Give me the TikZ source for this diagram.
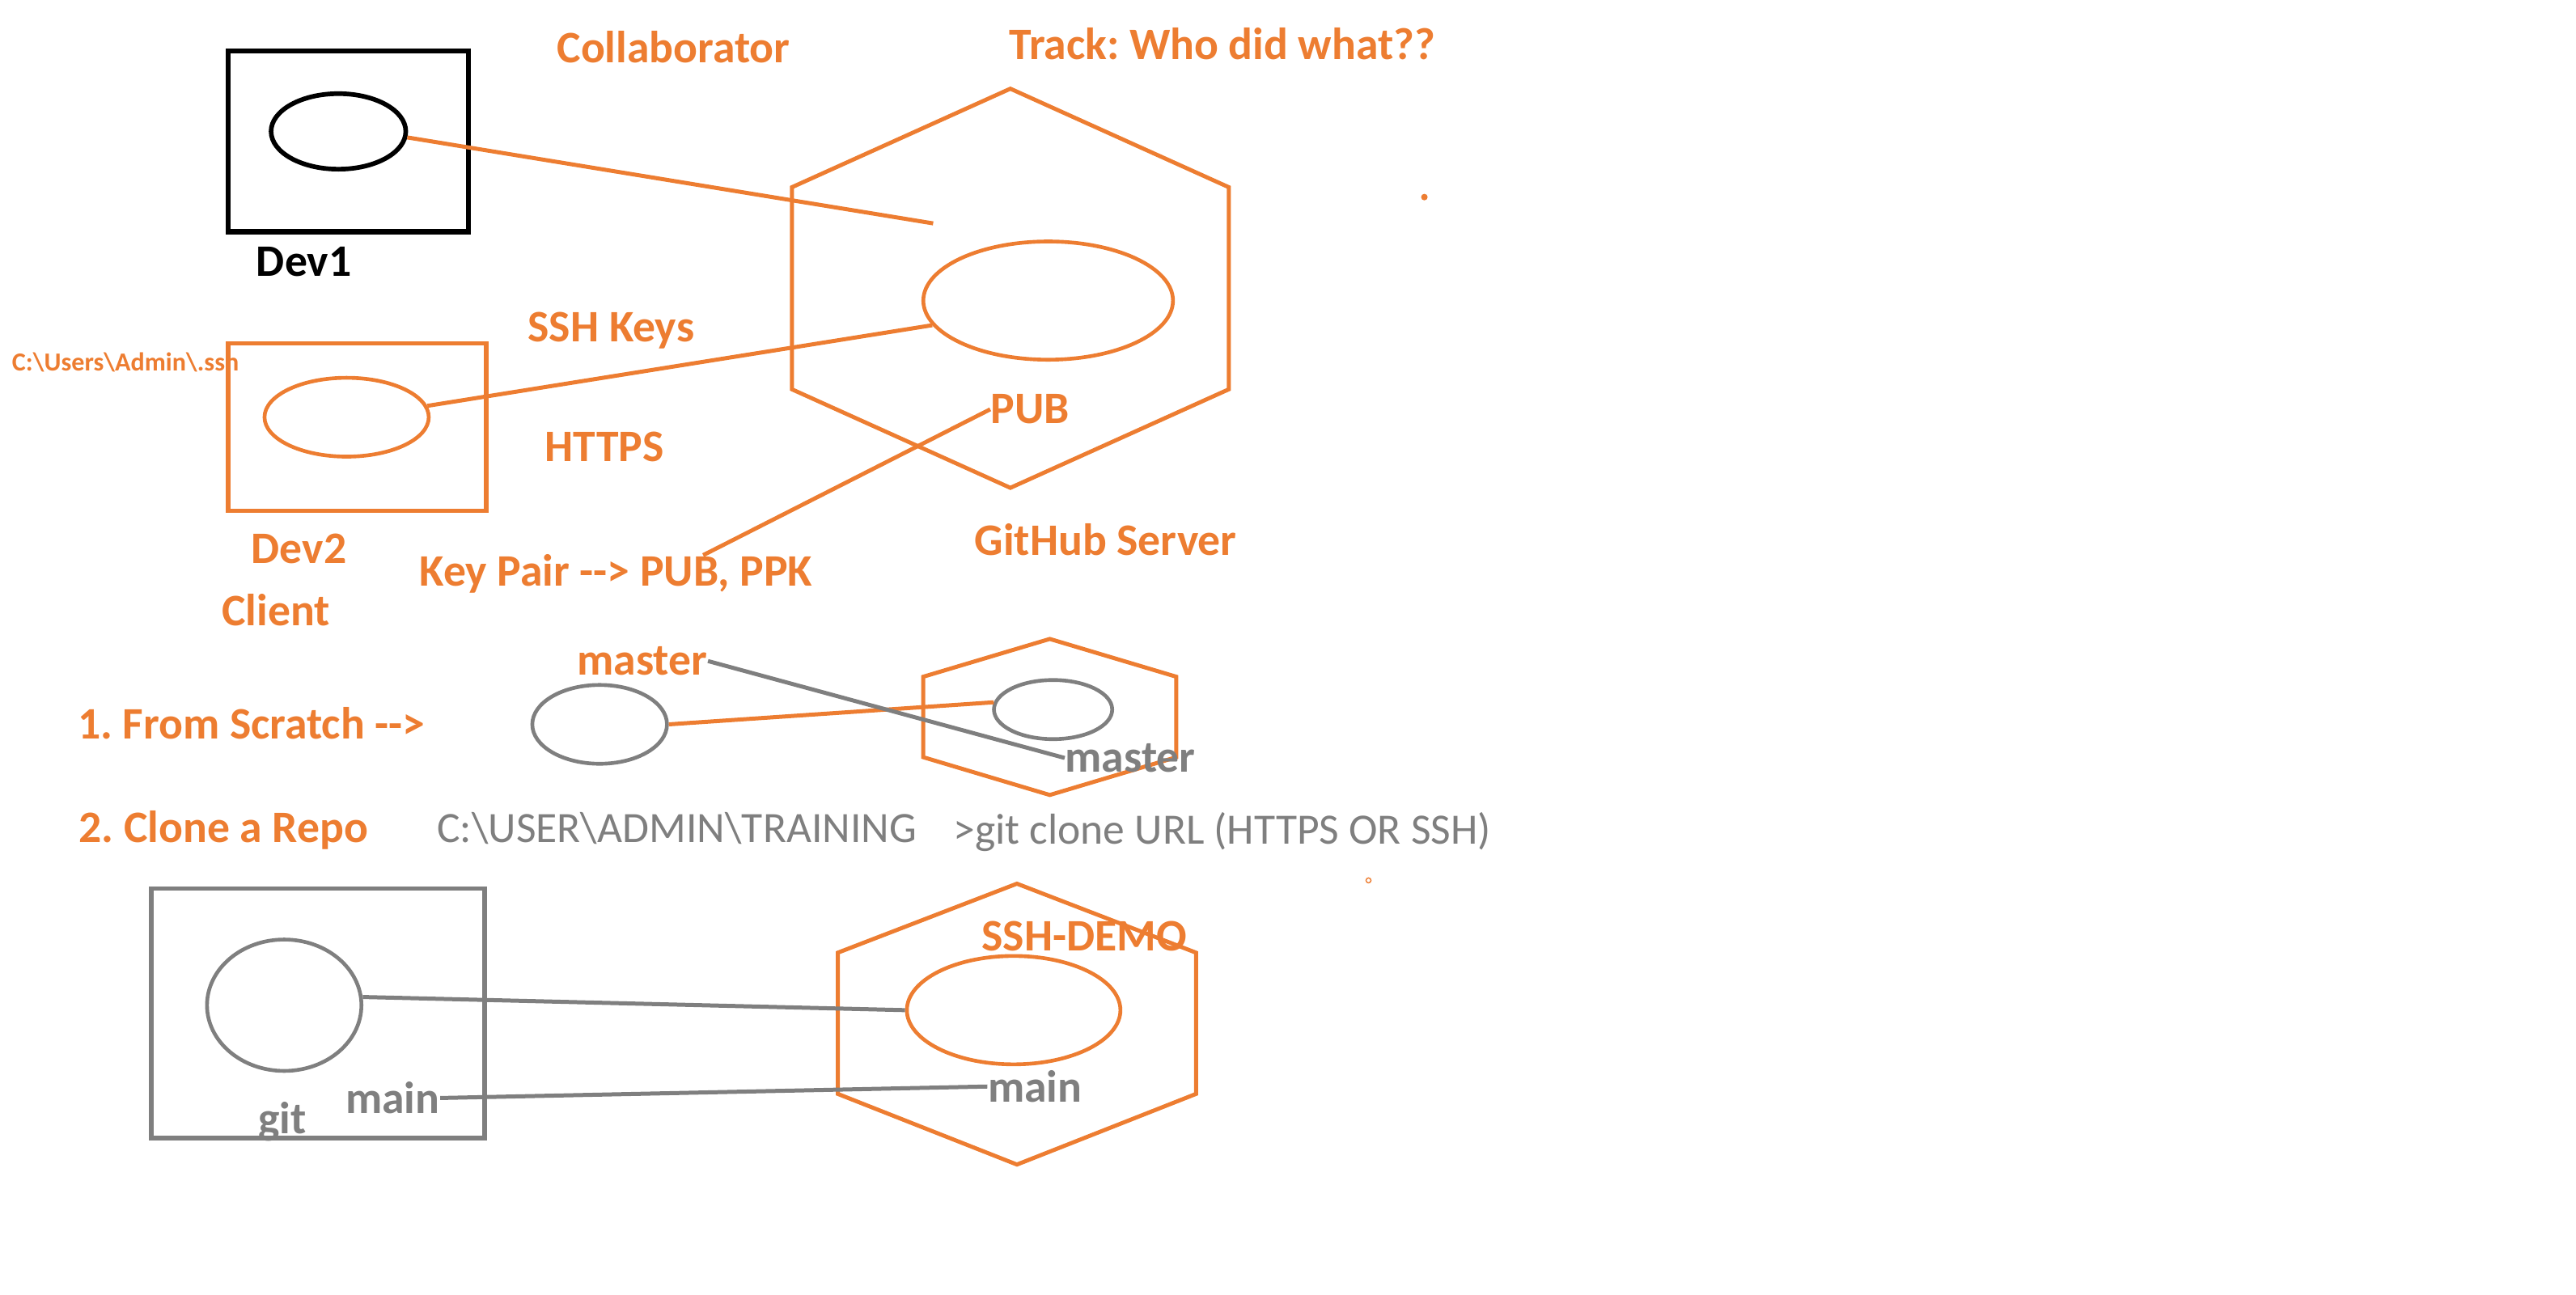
\documentclass[tikz,border=0pt]{standalone}
\usepackage{fontspec}
\setmainfont{Carlito}
\usetikzlibrary{shapes.geometric}
\definecolor{gitorange}{HTML}{ED7D31}
\definecolor{gitgray}{HTML}{7F7F7F}

\begin{document}
\frenchspacing
\begin{tikzpicture}[x=0.02cm, y=-0.02cm]

    % Diagram style
    \tikzset{
        lbl/.style={font=\bfseries\fontsize{15.6}{18}\selectfont, text=gitorange, inner sep=0pt, anchor=base},
        glbl/.style={lbl, text=gitgray},
        plain/.style={lbl, font=\fontsize{15}{18}\selectfont, text=gitgray},
        repo/.style={ellipse, draw, inner sep=0pt, line width=1.3pt},
        link/.style={line width=1.4pt}
    }

    \useasboundingbox (0,0) rectangle (1568,788);

    % Developers
    \draw[line width=1.8pt] (139,31) rectangle (285,141);
    \node[repo, line width=1.6pt, minimum width=1.64cm, minimum height=0.92cm] (DEV1) at (206,80) {};
    \node[lbl, text=black] (DEV1L) at (185,168) {Dev1};
    \draw[gitorange, line width=1.6pt] (139,209) rectangle (296,311);
    \node[repo, gitorange, minimum width=2cm, minimum height=0.96cm] (DEV2) at (211,254) {};
    \node[lbl] (DEV2L) at (182,343) {Dev2};
    \node[lbl] (CLIENT) at (168,381) {Client};
    \node[lbl, anchor=base west, font=\bfseries\fontsize{9}{11}\selectfont] (SSHDIR) at (7,226) {C:\textbackslash Users\textbackslash Admin\textbackslash .ssh};

    % GitHub server
    \draw[gitorange, link] (615,54) -- (748,114) -- (748,237) -- (615,297) -- (482,237) -- (482,114) -- cycle;
    \node[repo, gitorange, minimum width=3.04cm, minimum height=1.44cm] (HUB) at (638,183) {};
    \node[lbl] (PUB) at (627,258) {PUB};
    \node[lbl] (SERVER) at (673,338) {GitHub Server};

    % Labels
    \node[lbl] (COLLAB) at (410,38) {Collaborator};
    \node[lbl] (TRACK) at (744,36) {Track: Who did what??};
    \node[lbl] (SSHKEYS) at (372,208) {SSH Keys};
    \node[lbl] (HTTPS) at (368,281) {HTTPS};
    \node[lbl] (KEYPAIR) at (375,357) {Key Pair -{}-> PUB, PPK};

    % Connections
    \coordinate (HUBIN) at (568,136);
    \coordinate (KPEND) at (428,338);
    \draw[gitorange, link] (DEV1.-5) -- (HUBIN);
    \draw[gitorange, link] (DEV2.8) -- (HUB.192);
    \draw[gitorange, link] (KPEND) -- (PUB.west);

    % 1. From scratch
    \node[lbl] (STEP1) at (153,450) {1. From Scratch -{}->};
    \node[repo, gitgray, minimum width=1.64cm, minimum height=0.96cm] (LOCAL) at (365,441) {};
    \node[lbl] (MST1) at (391,411) {master};
    \draw[gitorange, link] (639,389) -- (716,412) -- (716,461) -- (639,484) -- (562,461) -- (562,412) -- cycle;
    \node[repo, gitgray, minimum width=1.44cm, minimum height=0.72cm] (REMOTE) at (641,432) {};
    \node[glbl] (MST2) at (688,470) {master};
    \draw[gitorange, link] (LOCAL.east) -- (REMOTE.173);
    \draw[gitgray, link] (MST1.east) -- (MST2.west);

    % 2. Clone a repo
    \node[lbl] (STEP2) at (136,513) {2. Clone a Repo};
    \node[plain] (TRAIN) at (412,513) {C:\textbackslash USER\textbackslash ADMIN\textbackslash TRAINING};
    \node[plain] (CLONE) at (744,514) {>git clone URL (HTTPS OR SSH)};
    \draw[gitgray, line width=1.6pt] (92,541) rectangle (295,693);
    \node[repo, gitgray, minimum width=1.88cm, minimum height=1.6cm] (GIT) at (173,612) {};
    \node[glbl] (GITL) at (172,690) {git};
    \node[glbl] (MAIN1) at (239,678) {main};
    \draw[gitorange, link] (619,538) -- (728,580) -- (728,666) -- (619,709) -- (510,666) -- (510,580) -- cycle;
    \node[repo, gitorange, minimum width=2.6cm, minimum height=1.32cm] (DEMO) at (617,615) {};
    \node[lbl] (DEMOL) at (660,579) {SSH-DEMO};
    \node[glbl] (MAIN2) at (630,671) {main};
    \draw[gitgray, link] (GIT.6) -- (DEMO.west);
    \draw[gitgray, link] (MAIN1.east) -- (MAIN2.west);

    % Stray marks
    \fill[gitorange] (867,120) circle (0.04cm);
    \draw[gitorange, line width=0.4pt] (833,536) circle (0.03cm);
\end{tikzpicture}
\end{document}
